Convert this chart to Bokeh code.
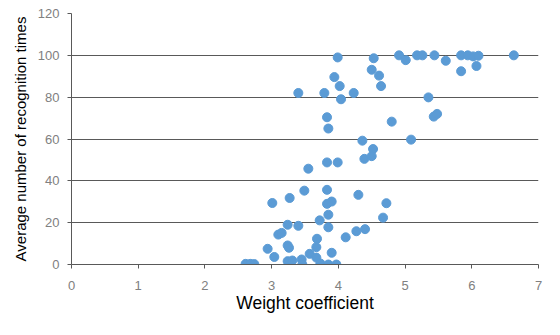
from bokeh.plotting import figure
from bokeh.models import ColumnDataSource, Range1d, FixedTicker
from bokeh.embed import file_html
from bokeh.resources import INLINE

weight = [2.61, 2.68, 2.74, 2.94, 3.01, 3.04, 3.10, 3.15, 3.24, 3.27, 3.40, 3.24, 3.26,
          3.24, 3.31, 3.45, 3.46, 3.49, 3.55, 3.57, 3.67, 3.68, 3.67, 3.72, 3.73,
          3.83, 3.83, 3.90, 3.85, 3.85, 3.85, 3.90, 3.97, 4.11, 4.27, 4.40, 4.30,
          4.67, 4.72,
          3.40, 3.79, 3.94, 4.02, 4.04, 4.23, 3.83, 3.85, 4.36, 4.52, 4.39, 4.50,
          3.83, 3.99, 3.99, 4.53, 4.50, 4.61, 4.64, 4.91, 5.01, 5.18, 5.26, 5.44,
          5.61, 5.84, 5.94, 6.02, 6.10, 5.84, 6.07, 6.63, 5.35, 5.43, 5.48, 4.80,
          5.09]
recognition = [0.3, 0.3, 0.2, 7.5, 29.4, 3.6, 14.3, 15.1, 19.0, 31.8, 18.5, 9.1, 8.0,
               1.6, 1.9, 2.4, 0.0, 35.3, 45.8, 5.1, 8.3, 12.3, 3.3, 21.1, 0.5,
               35.7, 29.0, 30.1, 23.8, 17.8, 0.0, 5.6, 0.0, 13.0, 15.9, 16.9, 33.3,
               22.4, 29.3,
               82.0, 82.0, 89.6, 85.3, 79.0, 82.0, 70.4, 65.0, 59.2, 55.2, 50.5, 51.8,
               48.8, 48.8, 99.0, 98.6, 93.1, 90.3, 85.3, 100.0, 97.7, 100.0, 100.0, 100.0,
               97.4, 100.0, 100.0, 99.5, 99.8, 92.4, 94.9, 100.0, 79.9, 70.7, 72.0, 68.3,
               59.7]

x_ticks = [0, 1, 2, 3, 4, 5, 6, 7]
y_ticks = [0, 20, 40, 60, 80, 100, 120]

source = ColumnDataSource(data=dict(x=weight, y=recognition))

p = figure(width=550, height=325, output_backend="svg", toolbar_location=None,
           x_range=Range1d(0, 7), y_range=Range1d(0, 120),
           min_border_left=71, min_border_right=12, min_border_top=13, min_border_bottom=61)
p.outline_line_color = None
p.background_fill_color = "white"
p.border_fill_color = "white"

p.scatter("x", "y", source=source, size=9, fill_color="#5B9BD5", line_color="#5B9BD5",
          line_width=1)

font = "Liberation Sans"
p.xaxis.ticker = FixedTicker(ticks=x_ticks)
p.yaxis.ticker = FixedTicker(ticks=y_ticks)
p.xaxis.minor_tick_line_color = None
p.yaxis.minor_tick_line_color = None
for ax in (p.xaxis, p.yaxis):
    ax.axis_line_color = "#595959"
    ax.major_tick_line_color = "#595959"
    ax.major_tick_in = 0
    ax.major_tick_out = 4
    ax.major_label_text_font = font
    ax.major_label_text_font_size = "13px"
    ax.major_label_text_color = "#808080"
    ax.axis_label_text_font = font
    ax.axis_label_text_font_style = "normal"
    ax.axis_label_text_color = "#000000"
p.xaxis.axis_label_text_font_size = "17.5px"
p.yaxis.axis_label_text_font_size = "15px"
p.xaxis.major_label_standoff = 12
p.yaxis.major_label_standoff = 8
p.xaxis.axis_label = "Weight coefficient"
p.yaxis.axis_label = "Average number of recognition times"
p.xaxis.axis_label_standoff = 0
p.yaxis.axis_label_standoff = 6

p.xgrid.grid_line_color = None
p.ygrid.grid_line_color = "#595959"
p.ygrid.grid_line_width = 1

open("out.html", "w").write(file_html(p, INLINE))
